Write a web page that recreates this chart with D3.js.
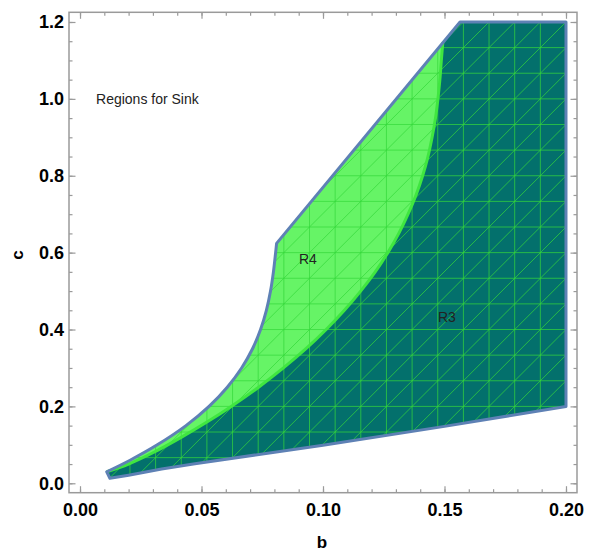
<!DOCTYPE html>
<html>
<head>
<meta charset="utf-8">
<script src="https://cdn.jsdelivr.net/npm/d3@7/dist/d3.min.js"></script>
<style>
  html, body { margin: 0; padding: 0; background: #fff; }
  svg { display: block; font-family: "Liberation Sans", Arial, sans-serif; }
</style>
</head>
<body>
<svg id="chart" width="589" height="553"></svg>
<script>
// ---- data ----
const xMajorTicks = [0, 0.05, 0.10, 0.15, 0.20];
const xTickLabels = ["0.00", "0.05", "0.10", "0.15", "0.20"];
const yMajorTicks = [0, 0.2, 0.4, 0.6, 0.8, 1.0, 1.2];
const yTickLabels = ["0.0", "0.2", "0.4", "0.6", "0.8", "1.0", "1.2"];
const xMinorStep = 0.01;
const yMinorStep = 0.05;

// outer (sink) boundary: left curved part, from tip to kink  [b, c]
const outerLeft = [
  [0.0110, 0.030], [0.0206, 0.060], [0.0318, 0.100], [0.0436, 0.150],
  [0.0531, 0.200], [0.0606, 0.250], [0.0665, 0.300], [0.0710, 0.350],
  [0.0743, 0.400], [0.0767, 0.450], [0.0784, 0.500], [0.0796, 0.550],
  [0.0805, 0.600], [0.0809, 0.624]
];
// straight upper diagonal, top edge, right edge
const outerTopRight = [[0.0809, 0.624], [0.1564, 1.2], [0.2, 1.2], [0.2, 0.2]];
// lower boundary (right to left)
const outerBottom = [
  [0.2, 0.2], [0.15, 0.148], [0.10, 0.099], [0.0473, 0.051],
  [0.0336, 0.037], [0.0200, 0.021], [0.0123, 0.013]
];
// boundary between R4 (light) and R3 (dark), from tip upward
const innerBoundary = [
  [0.0110, 0.030], [0.0200, 0.050], [0.0302, 0.080], [0.0418, 0.120],
  [0.0524, 0.160], [0.0622, 0.200], [0.0735, 0.250], [0.0837, 0.300],
  [0.0930, 0.350], [0.1013, 0.400], [0.1088, 0.450], [0.1155, 0.500],
  [0.1215, 0.550], [0.1267, 0.600], [0.1312, 0.650], [0.1350, 0.700],
  [0.1383, 0.750], [0.1410, 0.800], [0.1432, 0.850], [0.1449, 0.900],
  [0.1463, 0.950], [0.1473, 1.000], [0.1481, 1.050], [0.1487, 1.100],
  [0.1493, 1.146]
];
// region labels
const regionLabels = [
  { text: "R4", b: 0.0901, c: 0.570 },
  { text: "R3", b: 0.1473, c: 0.420 }
];
const titleText = "Regions for Sink";
const titlePos = { b: 0.0066, c: 0.987 };
// mesh grid of the region plot
const meshB = [0.01, 0.2];
const meshC = [0, 1.2];
const meshDivisions = 18;

// ---- layout ----
const frame = { left: 69, top: 12.3, right: 577, bottom: 492.7 };
const svg = d3.select("#chart");

const x = d3.scaleLinear().domain([-0.00453, 0.20453]).range([frame.left, frame.right]);
const y = d3.scaleLinear().domain([-0.0245, 1.2252]).range([frame.bottom, frame.top]);

const curveLine = d3.line().x(d => x(d[0])).y(d => y(d[1])).curve(d3.curveCatmullRom.alpha(0.5));
const straightLine = d3.line().x(d => x(d[0])).y(d => y(d[1]));

const outerPath = curveLine(outerLeft) +
  straightLine(outerTopRight.concat(outerBottom.slice(1))).replace(/^M/, "L") + "Z";
const innerTop = innerBoundary[innerBoundary.length - 1];
const r4Path = curveLine(outerLeft) +
  straightLine([outerLeft[outerLeft.length - 1], innerTop]).replace(/^M/, "L") +
  curveLine(innerBoundary.slice().reverse()).replace(/^M/, "L") + "Z";

const defs = svg.append("defs");
defs.append("clipPath").attr("id", "regionClip").append("path").attr("d", outerPath);

// R3 (dark) = whole sink region, then R4 on top
svg.append("path").attr("d", outerPath).attr("fill", "#03706c");
svg.append("path").attr("d", r4Path).attr("fill", "#66f466");

// mesh
const mesh = svg.append("g").attr("clip-path", "url(#regionClip)")
  .attr("stroke", "#35d83a").attr("stroke-width", 0.9).attr("stroke-opacity", 0.8).attr("fill", "none");
const db = (meshB[1] - meshB[0]) / meshDivisions;
const dc = (meshC[1] - meshC[0]) / meshDivisions;
const kIdx = d3.range(meshDivisions + 1);
mesh.selectAll("line.v").data(kIdx).join("line").attr("class", "v")
  .attr("x1", k => x(meshB[0] + k * db)).attr("x2", k => x(meshB[0] + k * db))
  .attr("y1", y(meshC[0])).attr("y2", y(meshC[1]));
mesh.selectAll("line.h").data(kIdx).join("line").attr("class", "h")
  .attr("y1", k => y(meshC[0] + k * dc)).attr("y2", k => y(meshC[0] + k * dc))
  .attr("x1", x(meshB[0])).attr("x2", x(meshB[1]));
const dIdx = d3.range(-meshDivisions, meshDivisions + 1);
mesh.selectAll("line.d").data(dIdx).join("line").attr("class", "d")
  .attr("x1", i => x(meshB[0] + i * db)).attr("y1", y(meshC[0]))
  .attr("x2", i => x(meshB[0] + (i + meshDivisions) * db)).attr("y2", y(meshC[1]));

// boundary R3/R4
svg.append("path").attr("d", curveLine(innerBoundary))
  .attr("fill", "none").attr("stroke", "#40e640").attr("stroke-width", 3);

// outer boundary
svg.append("path").attr("d", outerPath)
  .attr("fill", "none").attr("stroke", "#5e81b5").attr("stroke-width", 3).attr("stroke-linejoin", "round");

// ---- frame and axes ----
const frameColor = "#9a9a9a";
svg.append("rect").attr("x", frame.left).attr("y", frame.top)
  .attr("width", frame.right - frame.left).attr("height", frame.bottom - frame.top)
  .attr("fill", "none").attr("stroke", frameColor).attr("stroke-width", 1.5);

const xMinor = d3.range(0, 0.2 + 1e-9, xMinorStep);
const yMinor = d3.range(0, 1.2 + 1e-9, yMinorStep);

function styleAxis(g) {
  g.select(".domain").remove();
  g.selectAll(".tick line").attr("stroke", frameColor).attr("stroke-width", 1.2);
  g.selectAll(".tick text").attr("fill", "#000").attr("font-size", "18px").attr("font-weight", "bold")
    .attr("font-family", "'Liberation Sans', Arial, sans-serif");
}

// bottom
svg.append("g").attr("transform", `translate(0,${frame.bottom})`)
  .call(d3.axisBottom(x).tickValues(xMinor).tickSize(-3.5).tickFormat(""))
  .call(styleAxis);
svg.append("g").attr("transform", `translate(0,${frame.bottom})`)
  .call(d3.axisBottom(x).tickValues(xMajorTicks).tickSize(-6.5).tickPadding(11)
    .tickFormat((d, i) => xTickLabels[i]))
  .call(styleAxis);
// top
svg.append("g").attr("transform", `translate(0,${frame.top})`)
  .call(d3.axisTop(x).tickValues(xMinor).tickSize(-3.5).tickFormat(""))
  .call(styleAxis);
svg.append("g").attr("transform", `translate(0,${frame.top})`)
  .call(d3.axisTop(x).tickValues(xMajorTicks).tickSize(-6.5).tickFormat(""))
  .call(styleAxis);
// left
svg.append("g").attr("transform", `translate(${frame.left},0)`)
  .call(d3.axisLeft(y).tickValues(yMinor).tickSize(-3.5).tickFormat(""))
  .call(styleAxis);
svg.append("g").attr("transform", `translate(${frame.left},0)`)
  .call(d3.axisLeft(y).tickValues(yMajorTicks).tickSize(-6.5).tickPadding(5)
    .tickFormat((d, i) => yTickLabels[i]))
  .call(styleAxis);
// right
svg.append("g").attr("transform", `translate(${frame.right},0)`)
  .call(d3.axisRight(y).tickValues(yMinor).tickSize(-3.5).tickFormat(""))
  .call(styleAxis);
svg.append("g").attr("transform", `translate(${frame.right},0)`)
  .call(d3.axisRight(y).tickValues(yMajorTicks).tickSize(-6.5).tickFormat(""))
  .call(styleAxis);

// axis titles
svg.append("text").attr("x", 322).attr("y", 548).attr("text-anchor", "middle")
  .attr("font-size", "17px").attr("font-weight", "bold").attr("fill", "#000").text("b");
svg.append("text").attr("transform", "translate(23,255) rotate(-90)").attr("text-anchor", "middle")
  .attr("font-size", "17px").attr("font-weight", "bold").attr("fill", "#000").text("c");

// annotations
svg.append("text").attr("x", x(titlePos.b)).attr("y", y(titlePos.c))
  .attr("font-size", "14px").attr("fill", "#222").text(titleText);
svg.selectAll("text.region").data(regionLabels).join("text").attr("class", "region")
  .attr("x", d => x(d.b)).attr("y", d => y(d.c))
  .attr("font-size", "14px").attr("fill", "#222").text(d => d.text);
</script>
</body>
</html>
